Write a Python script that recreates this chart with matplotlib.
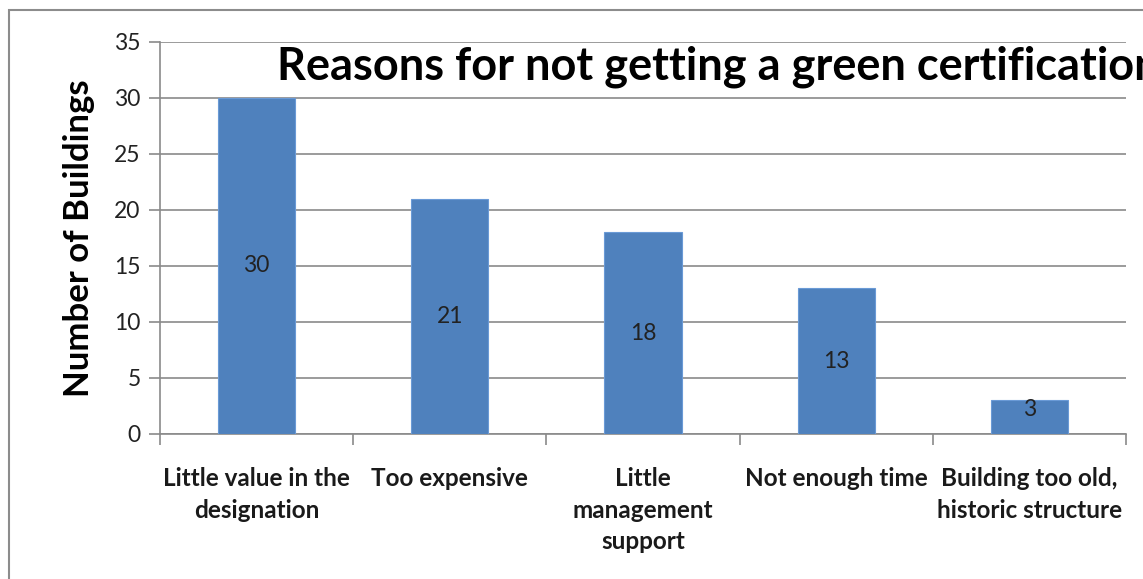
import matplotlib.pyplot as plt
from matplotlib.patches import Rectangle

categories = ['Little value in the\ndesignation', 'Too expensive', 'Little\nmanagement\nsupport',
              'Not enough time', 'Building too old,\nhistoric structure']
counts = [30, 21, 18, 13, 3]
yticks = [0, 5, 10, 15, 20, 25, 30, 35]

plt.rcParams['font.family'] = ['Lato', 'DejaVu Sans']

fig = plt.figure(figsize=(11.43, 5.79), dpi=100)
W, H = 1143, 579
ax = fig.add_axes([160 / W, 1 - 434 / H, (1126 - 160) / W, (434 - 41.5) / H])

# thin grey frame around the chart area (runs off the right/bottom edges)
fig.patches.append(Rectangle((9 / W, -0.1), 1.2, 1 - 10 / H + 0.1, transform=fig.transFigure,
                             fill=False, edgecolor='#8c8c8c', linewidth=1.5))

x = range(len(counts))
bars = ax.bar(x, counts, width=0.4, color='#4f81bd', edgecolor='#6a9ad6', linewidth=0.8, zorder=3)
for b, v in zip(bars, counts):
    ax.text(b.get_x() + b.get_width() / 2, v / 2 + (0.7 if v < 5 else 0), str(v),
            ha='center', va='center', fontsize=16.5, color='#222222', zorder=4)

ax.set_xlim(-0.5, len(counts) - 0.5)
ax.set_ylim(0, 35)
ax.set_yticks(yticks)
ax.set_yticklabels([str(t) for t in yticks], fontsize=16.5, color='#222222')
ax.yaxis.grid(True, color='#8a8a8a', linewidth=1.2, zorder=0)
ax.set_axisbelow(True)

# category boundary ticks below the axis
ax.set_xticks([i - 0.5 for i in range(len(counts) + 1)], minor=False)
ax.set_xticklabels([])
ax.set_xticks(list(x), minor=True)
ax.set_xticklabels(categories, minor=True, fontsize=17.5, fontweight='bold', color='#1a1a1a',
                   linespacing=1.45, va='top')
ax.tick_params(axis='x', which='major', length=8, color='#8a8a8a', width=1.2, direction='out')
ax.tick_params(axis='x', which='minor', length=0, pad=24)
ax.tick_params(axis='y', length=8, color='#8a8a8a', width=1.2, pad=6)

for s in ['top', 'right']:
    ax.spines[s].set_visible(False)
for s in ['left', 'bottom']:
    ax.spines[s].set_color('#8a8a8a')
    ax.spines[s].set_linewidth(1.2)

ax.set_ylabel('Number of Buildings', fontsize=25, fontweight='bold', labelpad=14)

# title sits inside the plot and runs past the right edge, as in the original
fig.text(277 / W, 1 - 80 / H, 'Reasons for not getting a green certification',
         fontsize=32.5, fontweight='bold', ha='left', va='baseline', color='black')

fig.savefig('out.png', dpi=100)
